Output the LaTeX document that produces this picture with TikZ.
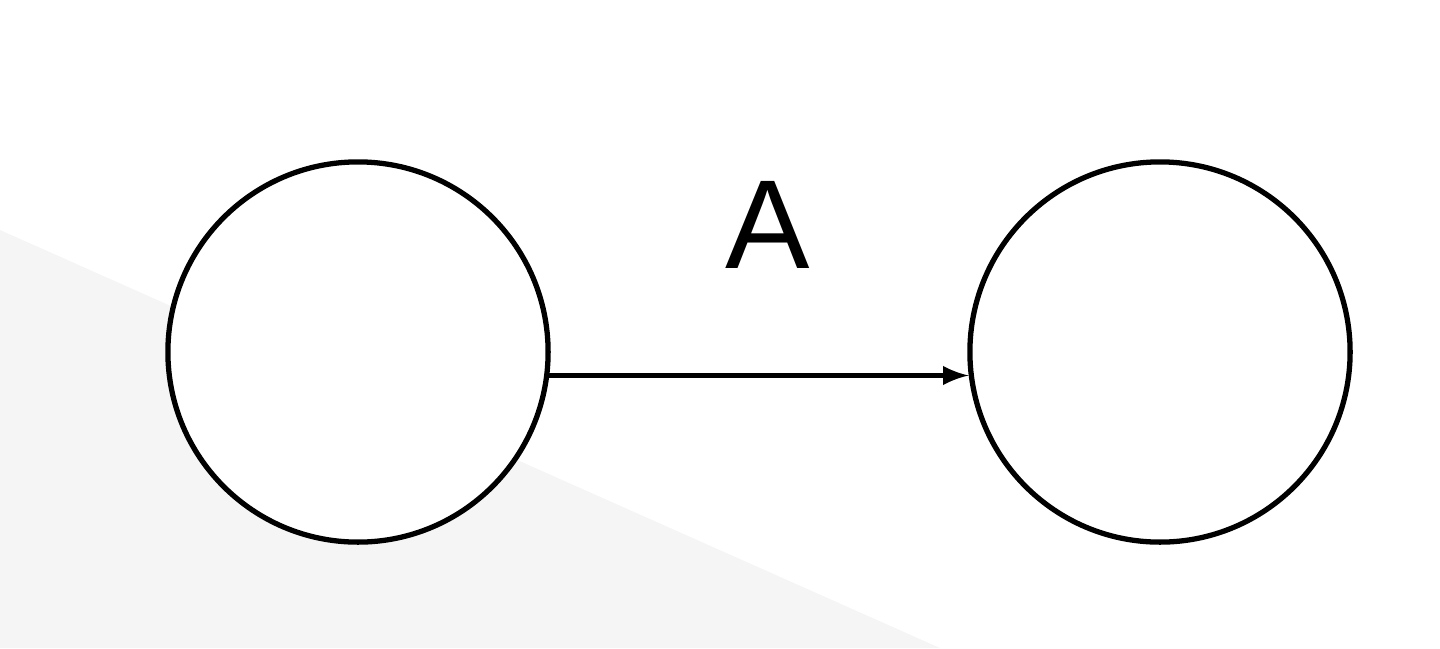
\documentclass[tikz,border=0pt]{standalone}
\usepackage{fontspec}
\setmainfont{Liberation Sans}
\begin{document}
\begin{tikzpicture}[x=0.01cm,y=-0.01cm,
  state/.style={circle,draw,line width=1.5pt,minimum size=3.8cm,inner sep=0pt,fill=white},
  conn/.style={-latex,line width=1.5pt}]
\useasboundingbox (0,0) rectangle (1440,648);
\fill[black!4] (0,230) -- (940,648) -- (0,648) -- cycle;
\node[state] (l) at (358,352) {};
\node[state] (r) at (1160,352) {};
\draw[conn] (l.-7) -- (r.187);
\node[font=\fontsize{36}{40}\selectfont] (a) at (768,225) {A};
\end{tikzpicture}
\end{document}
